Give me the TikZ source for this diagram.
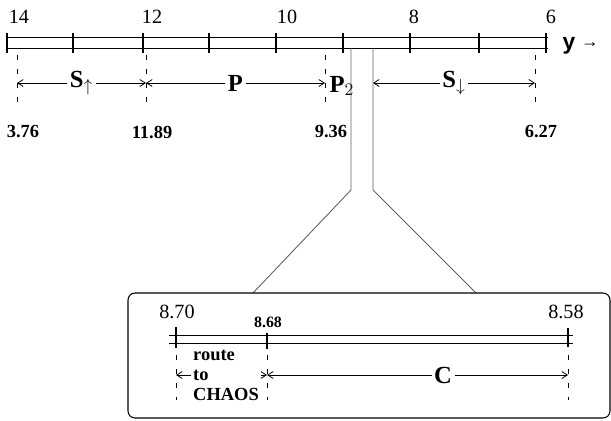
\documentclass[tikz,border=0pt]{standalone}
\usepackage{fontspec}
\setmainfont{Liberation Serif}
\newfontfamily\ysans{Liberation Sans}
\usetikzlibrary{arrows.meta, positioning}

\begin{document}
\begin{tikzpicture}[x=0.02cm, y=-0.02cm,
  rail/.style={line width=0.55pt},
  tick/.style={line width=0.6pt},
  guide/.style={line width=0.5pt, dash pattern=on 3pt off 5pt},
  dim/.style={{Straight Barb[length=1.1mm,width=1.4mm]}-{Straight Barb[length=1.1mm,width=1.4mm]}, line width=0.45pt},
  stem/.style={gray!75!black, line width=0.5pt},
  num/.style={font=\fontsize{11.5}{12}\selectfont, inner sep=1pt},
  val/.style={font=\fontsize{10.5}{11}\selectfont\bfseries, inner sep=1pt},
  lbl/.style={font=\fontsize{14}{15}\selectfont\bfseries, fill=white, inner sep=1.5pt}]
  \useasboundingbox (0,0) rectangle (611,420);

  % y axis, double rail with ticks
  \draw[rail] (6,37) coordinate (a0) -- (548,37) coordinate (a1);
  \draw[rail] (6,48) coordinate (b0) -- (548,48) coordinate (b1);
  \foreach \x [count=\i] in {7,73,143,209,276,343,410,479,546}
    \draw[tick] (\x,33) coordinate (t\i) -- (\x,53);
  \foreach \x/\v in {19/14,152/12,287/10,414/8,551/6}
    \node[num] (n\v) at (\x,17) {\v};
  \node[font=\fontsize{13}{13}\selectfont\ysans\bfseries, inner sep=1pt] (yax) at (569,46) {y};
  \node[font=\fontsize{10}{10}\selectfont\ysans\bfseries, inner sep=1pt] (yarr) at (590,45) {→};

  % zones along y
  \foreach \x/\v [count=\i] in {17/3.76,146/11.89,325/9.36,535/6.27} {
    \draw[guide] (\x,55) coordinate (u\i) -- (\x,110) coordinate (l\i);
    \coordinate (g\i) at (\x,83);
    \node[val] (v\i) at (\x+6,132) {\v};
  }
  \coordinate (g5) at (373,83);
  \draw[dim] (g1) -- node[lbl] (sup) {S$_{\uparrow}$} (g2);
  \draw[dim] (g2) -- node[lbl] (prim) {P} (g3);
  \draw[dim] (g5) -- node[lbl] (sdown) {S$_{\downarrow}$} (g4);
  \node[lbl, fill=none, inner sep=0pt] (ptwo) at (342,86) {P$_2$};

  % magnifier
  \coordinate (s1) at (351,48);  \coordinate (s2) at (351,190);
  \coordinate (s3) at (373,48);  \coordinate (s4) at (373,190);
  \coordinate (d1) at (253,293); \coordinate (d2) at (476,293);
  \draw[stem] (s1) -- (s2) -- (d1);
  \draw[stem] (s3) -- (s4) -- (d2);
  \draw[line width=0.6pt, rounded corners=4pt] (128,293) rectangle (610,418);

  % zoomed part
  \draw[rail] (169,335) -- (573,335);
  \draw[rail] (169,343) -- (573,343);
  \draw[tick] (176,327) -- (176,348);
  \draw[tick] (267,333) -- (267,349);
  \draw[tick] (568,328) -- (568,347);
  \node[num] (z1) at (177,312) {8.70};
  \node[font=\fontsize{9}{9}\selectfont\bfseries, inner sep=1pt] (z2) at (268,322) {8.68};
  \node[num] (z3) at (566,312) {8.58};
  \foreach \x [count=\i] in {176,267,568} {
    \draw[guide] (\x,355) -- (\x,400);
    \coordinate (r\i) at (\x,375);
  }
  \draw[dim] (r1) -- (r2);
  \node[font=\fontsize{10.5}{11.4}\selectfont\bfseries, fill=white, inner sep=1pt, align=left] (chaos) at (226,375) {route\\to\\CHAOS};
  \draw[dim] (r2) -- node[lbl, pos=0.585] (cpart) {C} (r3);
\end{tikzpicture}
\end{document}
